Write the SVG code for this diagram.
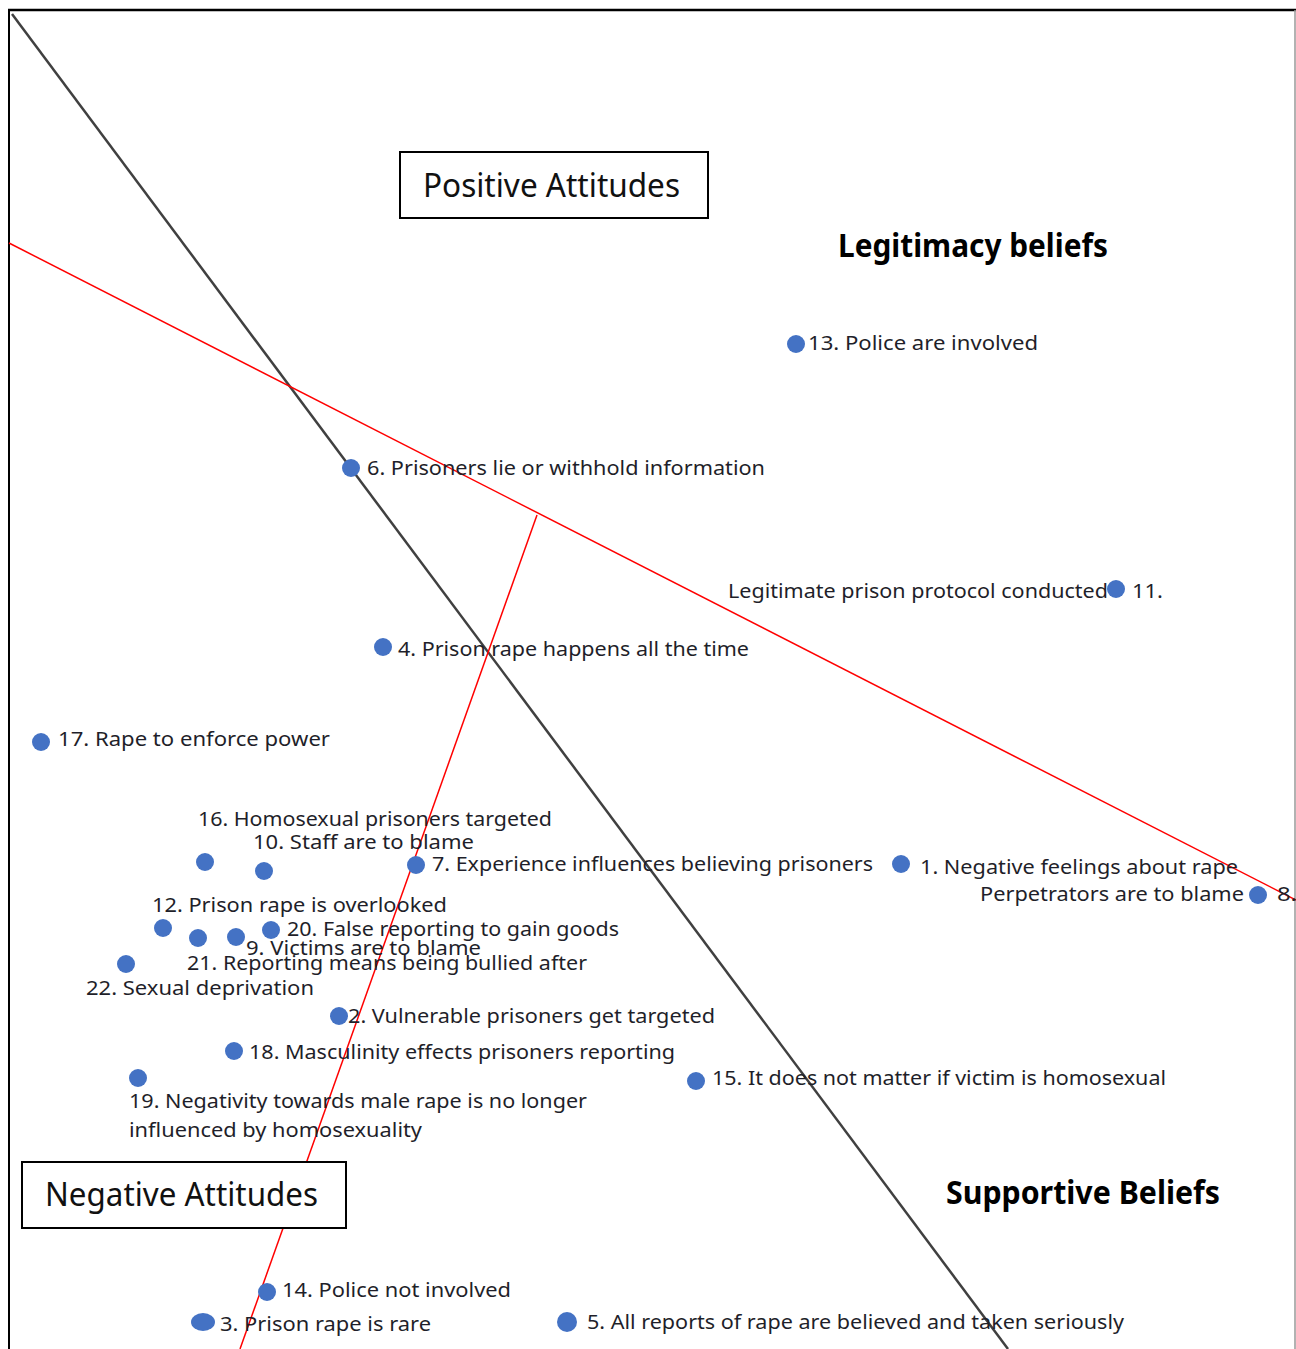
<svg xmlns="http://www.w3.org/2000/svg" width="1296" height="1349" viewBox="0 0 1296 1349">
<style>
.lbl{font-family:"Noto Sans","Open Sans","Liberation Sans",sans-serif;font-size:20px;fill:#1f1f2a;}
.ttl{font-family:"Noto Sans","Open Sans","Liberation Sans",sans-serif;font-size:32px;fill:#111;}
.bold{font-family:"Noto Sans","Open Sans","Liberation Sans",sans-serif;font-size:32px;font-weight:bold;fill:#000;}
.dot{fill:#4472C4;}
.box{fill:#fff;stroke:#000;stroke-width:2;}
.axis{stroke:#404040;stroke-width:2.5;fill:none;}
.red{stroke:#ff0000;stroke-width:1.5;fill:none;}
</style>
<rect x="0" y="0" width="1296" height="1349" fill="#fff"/>
<g id="frame">
<line x1="8" y1="10" x2="1296" y2="10" stroke="#000" stroke-width="2.5"/>
<line x1="9" y1="9" x2="9" y2="1349" stroke="#000" stroke-width="2"/>
<line x1="1295" y1="10" x2="1295" y2="1349" stroke="#999" stroke-width="1.5"/>
</g>
<g id="connectors">
<line class="axis" x1="12" y1="14" x2="1008" y2="1349"/>
<line class="red" x1="9" y1="243" x2="1296" y2="900"/>
<line class="red" x1="537" y1="515" x2="240" y2="1349"/>
</g>
<g id="positive-attitudes">
<rect class="box" x="400" y="152" width="308" height="66"/>
<text class="ttl" x="423" y="197" textLength="257" lengthAdjust="spacingAndGlyphs">Positive Attitudes</text>
</g>
<g id="negative-attitudes">
<rect class="box" x="22" y="1162" width="324" height="66"/>
<text class="ttl" x="45" y="1206" textLength="273" lengthAdjust="spacingAndGlyphs">Negative Attitudes</text>
</g>
<g id="legitimacy-beliefs">
<text class="bold" x="838" y="257" textLength="270" lengthAdjust="spacingAndGlyphs">Legitimacy beliefs</text>
</g>
<g id="supportive-beliefs">
<text class="bold" x="946" y="1204" textLength="274" lengthAdjust="spacingAndGlyphs">Supportive Beliefs</text>
</g>
<g id="item13"><circle class="dot" cx="796" cy="344" r="9"/><text class="lbl" x="808" y="350" textLength="230" lengthAdjust="spacingAndGlyphs">13. Police are involved</text></g>
<g id="item6"><circle class="dot" cx="351" cy="468" r="9"/><text class="lbl" x="367" y="475" textLength="398" lengthAdjust="spacingAndGlyphs">6. Prisoners lie or withhold information</text></g>
<g id="item11"><text class="lbl" x="728" y="598" textLength="380" lengthAdjust="spacingAndGlyphs">Legitimate prison protocol conducted</text><circle class="dot" cx="1116" cy="589" r="9"/><text class="lbl" x="1132" y="598" textLength="31" lengthAdjust="spacingAndGlyphs">11.</text></g>
<g id="item4"><circle class="dot" cx="383" cy="647" r="9"/><text class="lbl" x="398" y="656" textLength="351" lengthAdjust="spacingAndGlyphs">4. Prison rape happens all the time</text></g>
<g id="item17"><circle class="dot" cx="41" cy="742" r="9"/><text class="lbl" x="58" y="746" textLength="272" lengthAdjust="spacingAndGlyphs">17. Rape to enforce power</text></g>
<g id="item16"><text class="lbl" x="198" y="826" textLength="354" lengthAdjust="spacingAndGlyphs">16. Homosexual prisoners targeted</text><circle class="dot" cx="205" cy="862" r="9"/></g>
<g id="item10"><text class="lbl" x="253" y="849" textLength="221" lengthAdjust="spacingAndGlyphs">10. Staff are to blame</text><circle class="dot" cx="264" cy="871" r="9"/></g>
<g id="item7"><circle class="dot" cx="416" cy="865" r="9"/><text class="lbl" x="432" y="871" textLength="441" lengthAdjust="spacingAndGlyphs">7. Experience influences believing prisoners</text></g>
<g id="item1"><circle class="dot" cx="901" cy="864" r="9"/><text class="lbl" x="920" y="874" textLength="318" lengthAdjust="spacingAndGlyphs">1. Negative feelings about rape</text></g>
<g id="item8"><text class="lbl" x="980" y="901" textLength="264" lengthAdjust="spacingAndGlyphs">Perpetrators are to blame</text><circle class="dot" cx="1258" cy="895" r="9"/><text class="lbl" x="1277" y="901" textLength="20" lengthAdjust="spacingAndGlyphs">8.</text></g>
<g id="item12"><text class="lbl" x="152" y="912" textLength="295" lengthAdjust="spacingAndGlyphs">12. Prison rape is overlooked</text><circle class="dot" cx="163" cy="928" r="9"/></g>
<g id="item21"><circle class="dot" cx="198" cy="938" r="9"/><text class="lbl" x="187" y="970" textLength="400" lengthAdjust="spacingAndGlyphs">21. Reporting means being bullied after</text></g>
<g id="item9"><circle class="dot" cx="236" cy="937" r="9"/><text class="lbl" x="246" y="955" textLength="235" lengthAdjust="spacingAndGlyphs">9. Victims are to blame</text></g>
<g id="item20"><circle class="dot" cx="271" cy="930" r="9"/><text class="lbl" x="287" y="936" textLength="332" lengthAdjust="spacingAndGlyphs">20. False reporting to gain goods</text></g>
<g id="item22"><circle class="dot" cx="126" cy="964" r="9"/><text class="lbl" x="86" y="995" textLength="228" lengthAdjust="spacingAndGlyphs">22. Sexual deprivation</text></g>
<g id="item2"><circle class="dot" cx="339" cy="1016" r="9"/><text class="lbl" x="348" y="1023" textLength="367" lengthAdjust="spacingAndGlyphs">2. Vulnerable prisoners get targeted</text></g>
<g id="item18"><circle class="dot" cx="234" cy="1051" r="9"/><text class="lbl" x="249" y="1059" textLength="426" lengthAdjust="spacingAndGlyphs">18. Masculinity effects prisoners reporting</text></g>
<g id="item19"><circle class="dot" cx="138" cy="1078" r="9"/><text class="lbl" x="129" y="1108" textLength="458" lengthAdjust="spacingAndGlyphs">19. Negativity towards male rape is no longer</text><text class="lbl" x="129" y="1137" textLength="293" lengthAdjust="spacingAndGlyphs">influenced by homosexuality</text></g>
<g id="item15"><circle class="dot" cx="696" cy="1081" r="9"/><text class="lbl" x="712" y="1085" textLength="454" lengthAdjust="spacingAndGlyphs">15. It does not matter if victim is homosexual</text></g>
<g id="item14"><circle class="dot" cx="267" cy="1292" r="9"/><text class="lbl" x="282" y="1297" textLength="229" lengthAdjust="spacingAndGlyphs">14. Police not involved</text></g>
<g id="item3"><ellipse class="dot" cx="203" cy="1322" rx="12" ry="9"/><text class="lbl" x="220" y="1331" textLength="211" lengthAdjust="spacingAndGlyphs">3. Prison rape is rare</text></g>
<g id="item5"><circle class="dot" cx="567" cy="1322" r="10"/><text class="lbl" x="587" y="1329" textLength="537" lengthAdjust="spacingAndGlyphs">5. All reports of rape are believed and taken seriously</text></g>
</svg>
